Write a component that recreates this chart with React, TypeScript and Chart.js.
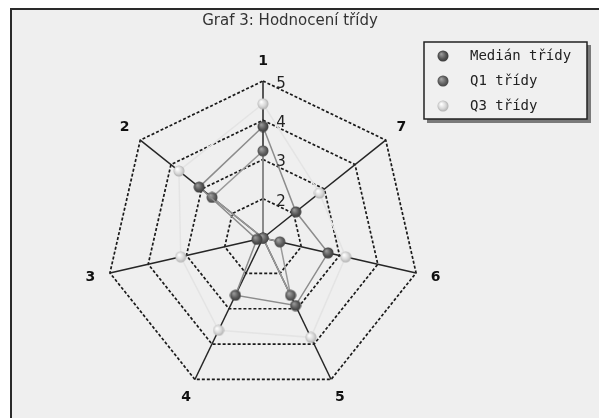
import React, { useEffect, useRef } from 'react';
import { Chart, registerables } from 'chart.js';

Chart.register(...registerables);

// Categories in clockwise drawing order (reference shows 1 at top, then 2..7 counter-clockwise)
const categories = ['1', '7', '6', '5', '4', '3', '2'];
const medianValues = [3.84, 2.07, 2.7, 2.91, 2.62, 1.16, 3.08];
const q1Values = [3.22, 1.0, 1.44, 2.62, 1.0, 1.0, 2.66];
const q3Values = [4.42, 2.84, 3.16, 3.81, 3.61, 3.15, 3.74];
const seriesLabels = ['Medián třídy', 'Q1 třídy', 'Q3 třídy'];
const titleText = 'Graf 3: Hodnocení třídy';
const scaleMin = 1;
const scaleMax = 5;
const scaleStep = 1;

const W = 599;
const H = 418;

function makeSphere(light: string, base: string, dark: string, size: number) {
  const c = document.createElement('canvas');
  c.width = size;
  c.height = size;
  const g = c.getContext('2d')!;
  const r = size / 2;
  const grad = g.createRadialGradient(r - 1.8, r - 2, 0.4, r, r, r);
  grad.addColorStop(0, light);
  grad.addColorStop(0.6, base);
  grad.addColorStop(1, dark);
  g.fillStyle = grad;
  g.beginPath();
  g.arc(r, r, r - 0.5, 0, Math.PI * 2);
  g.fill();
  return c;
}

const framePlugin = {
  id: 'frameDeco',
  beforeDraw(chart: any) {
    const ctx = chart.ctx;
    ctx.save();
    ctx.fillStyle = '#ffffff';
    ctx.fillRect(0, 0, W, H);
    ctx.fillStyle = '#efefef';
    ctx.fillRect(11, 9, W - 11, H - 9);
    ctx.fillStyle = '#2a2a2a';
    ctx.fillRect(10, 8, 2, H - 8);
    ctx.fillRect(10, 8, W - 10, 2);
    ctx.restore();
  },
  afterDraw(chart: any) {
    const ctx = chart.ctx;
    const scale = chart.scales.r;
    ctx.save();
    // tick labels along axis 1, right of axis
    ctx.font = '15px "DejaVu Sans"';
    ctx.fillStyle = '#222';
    ctx.textAlign = 'center';
    ctx.textBaseline = 'middle';
    scale.ticks.forEach((t: any) => {
      if (t.value <= scaleMin) return;
      const d = scale.getDistanceFromCenterForValue(t.value);
      ctx.fillText(String(t.value), scale.xCenter + 18, scale.yCenter - d + 3);
    });
    // point labels
    ctx.font = 'bold 14px "DejaVu Sans"';
    ctx.fillStyle = '#111';
    chart.data.labels.forEach((lab: string, i: number) => {
      const p = scale.getPointPosition(i, scale.drawingArea + 20);
      ctx.fillText(lab, p.x, p.y);
    });
    // legend box
    const bx = 424, by = 42, bw = 163, bh = 77;
    ctx.fillStyle = '#7a7a7a';
    ctx.fillRect(bx + 3, by + 3, bw + 1, bh + 1);
    ctx.fillStyle = '#f0f0f0';
    ctx.fillRect(bx, by, bw, bh);
    ctx.strokeStyle = '#222';
    ctx.lineWidth = 1.5;
    ctx.strokeRect(bx, by, bw, bh);
    ctx.font = '14px "DejaVu Sans Mono"';
    ctx.fillStyle = '#222';
    ctx.textAlign = 'left';
    chart.data.datasets.forEach((ds: any, i: number) => {
      const y = by + 14 + i * 25;
      const img = ds.pointStyle;
      if (img && img.width) ctx.drawImage(img, 443 - img.width / 2, y - img.height / 2);
      ctx.fillText(ds.label, 470, y);
    });
    ctx.restore();
  },
};

export default function App() {
  const ref = useRef<HTMLCanvasElement | null>(null);
  useEffect(() => {
    if (!ref.current) return;
    const sMed = makeSphere('#9a9a9a', '#555555', '#353535', 12);
    const sQ1 = makeSphere('#a4a4a4', '#626262', '#3e3e3e', 12);
    const sQ3 = makeSphere('#ffffff', '#d6d6d6', '#a8a8a8', 12);
    const chart = new Chart(ref.current, {
      type: 'radar',
      data: {
        labels: categories,
        datasets: [
          {
            label: seriesLabels[0],
            data: medianValues,
            borderColor: '#8c8c8c',
            borderWidth: 1.5,
            backgroundColor: 'transparent',
            fill: false,
            pointStyle: sMed as any,
            pointRadius: 6,
          },
          {
            label: seriesLabels[1],
            data: q1Values,
            borderColor: '#9a9a9a',
            borderWidth: 1.5,
            backgroundColor: 'transparent',
            fill: false,
            pointStyle: sQ1 as any,
            pointRadius: 6,
          },
          {
            label: seriesLabels[2],
            data: q3Values,
            borderColor: '#e4e4e4',
            borderWidth: 1.5,
            backgroundColor: 'transparent',
            fill: false,
            pointStyle: sQ3 as any,
            pointRadius: 6,
          },
        ],
      },
      options: {
        responsive: false,
        animation: false,
        layout: { padding: { left: 0, right: 19, top: 0, bottom: 0 } },
        plugins: {
          legend: { display: false },
          tooltip: { enabled: false },
          title: {
            display: true,
            text: titleText,
            color: '#333',
            font: { family: 'DejaVu Sans', size: 15, weight: 'normal' },
            padding: { top: 12, bottom: 6 },
          },
        },
        scales: {
          r: {
            min: scaleMin,
            max: scaleMax,
            ticks: { stepSize: scaleStep, display: false },
            pointLabels: { display: false },
            grid: { circular: false, color: '#1a1a1a', lineWidth: 1.7 },
            border: { dash: [3, 2] },
            angleLines: { display: true, color: '#262626', lineWidth: 1.5 },
            afterFit: (s: any) => {
              s.xCenter = 263;
              s.yCenter = 238;
              s.drawingArea = 157;
            },
          } as any,
        },
      },
      plugins: [framePlugin],
    });
    return () => chart.destroy();
  }, []);
  return (
    <div style={{ position: 'absolute', left: 0, top: 0, width: W, height: H }}>
      <canvas ref={ref} width={W} height={H} style={{ display: 'block' }} />
    </div>
  );
}
